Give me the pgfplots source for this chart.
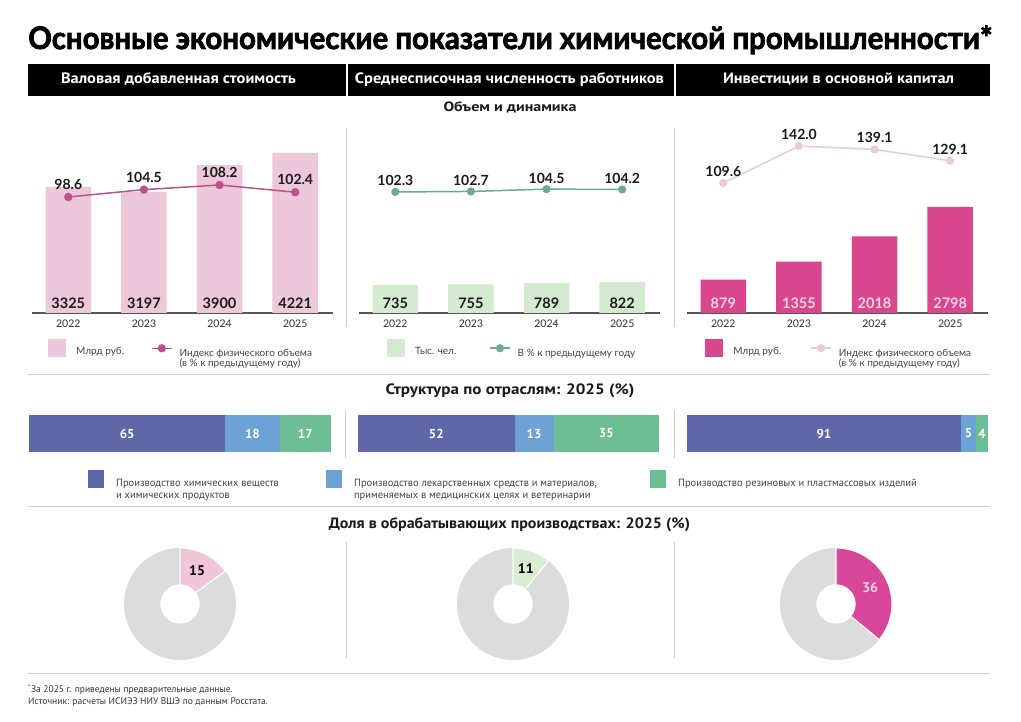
\documentclass[border=0pt]{standalone}
\usepackage{fontspec}
\usepackage{graphicx}
\usepackage{pgfplots}
\pgfplotsset{compat=1.18}
\usepackage{pgfplotstable}
\setmainfont{Lato}
\newfontfamily\hfont{PT Sans}
\newfontfamily\titlefont{Lato}[BoldFeatures={FakeBold=2.5}]

\definecolor{pinkbar}{HTML}{EDC7DA}
\definecolor{lineA}{HTML}{B9538D}
\definecolor{greenbar}{HTML}{D5EBD1}
\definecolor{lineB}{HTML}{6DAA90}
\definecolor{magbar}{HTML}{D9488F}
\definecolor{lineC}{HTML}{E9CAD8}
\definecolor{labelC}{HTML}{F8D3E3}
\definecolor{stA}{HTML}{5F67A9}
\definecolor{stB}{HTML}{6CA2D6}
\definecolor{stC}{HTML}{6DBE94}
\definecolor{dgrey}{HTML}{DCDCDC}
\definecolor{dA}{HTML}{F1C6DA}
\definecolor{dB}{HTML}{D8EDD2}
\definecolor{dC}{HTML}{D9479A}
\definecolor{sepgrey}{HTML}{CFCFCF}
\definecolor{axisgrey}{HTML}{555555}
\definecolor{ticktext}{HTML}{333333}
\definecolor{legtext}{HTML}{444444}
\definecolor{valtext}{HTML}{1A1A1A}

\newcommand\fitbox[2]{\resizebox{#1}{\height}{#2}}

% year, volume, index
\pgfplotstableread{
x v i
0 3325 98.6
1 3197 104.5
2 3900 108.2
3 4221 102.4
}\gva
\pgfplotstableread{
x v i
0 735 102.3
1 755 102.7
2 789 104.5
3 822 104.2
}\staff
\pgfplotstableread{
x v i
0 879 109.6
1 1355 142.0
2 2018 139.1
3 2798 129.1
}\invest

\pgfplotsset{
  panel/.style={scale only axis, width=301pt, height=166.8pt,
    xmin=-0.48, xmax=3.5, clip=false},
  barpanel/.style={panel, ymin=0, ymax=4400,
    axis x line*=bottom, axis y line=none,
    x axis line style={draw=axisgrey, line width=1.1pt, -},
    xtick={0,1,2,3}, xticklabels={2022,2023,2024,2025},
    ytick=\empty, major tick length=0pt,
    xticklabel style={font=\fontsize{10.5}{12}\selectfont, text=ticktext, yshift=-3pt},
    legend image code/.code={\fill[##1] (0pt,-5.5pt) rectangle (18pt,12.5pt); \path (28pt,0pt);},
    legend style={draw=none, fill=none, inner sep=0pt, anchor=north west,
      nodes={inner sep=0pt, font=\fontsize{10}{10.5}\selectfont, text=legtext}}},
  linepanel/.style={panel, hide axis,
    legend image code/.code={\draw[##1, mark repeat=2, mark phase=2] plot coordinates {(0pt,5pt) (10pt,5pt) (20pt,5pt)}; \path (27pt,0pt);},
    legend style={draw=none, fill=none, inner sep=0pt, anchor=north west,
      nodes={inner sep=0pt, font=\fontsize{10}{10.5}\selectfont, text=legtext}}},
  barvals/.style={ybar, bar width=45.5pt, bar shift=0pt, draw=none,
    point meta=explicit symbolic, nodes near coords,
    visualization depends on=rawy \as \rawy,
    every node near coord/.style={anchor=base, shift={(axis direction cs:0,-\rawy)},
      yshift=4pt, font=\bfseries\fontsize{14.5}{16}\selectfont, text=#1}},
  linevals/.style={line width=1.5pt, mark=*, mark size=3.4pt,
    point meta=explicit symbolic, nodes near coords,
    every node near coord/.style={anchor=base, yshift=#1,
      font=\bfseries\fontsize{14}{16}\selectfont, text=valtext}},
  stackax/.style={scale only axis, height=37pt, xmin=0, xmax=100,
    ymin=-0.5, ymax=0.5, hide axis, xbar stacked, bar width=37pt, clip=false,
    point meta=explicit symbolic, nodes near coords,
    every node near coord/.style={anchor=center,
      font=\hfont\bfseries\fontsize{13}{14}\selectfont, text=white}},
  donut/.style={scale only axis, width=112pt, height=112pt, anchor=center,
    xmin=-1, xmax=1, ymin=-1, ymax=1, hide axis, clip=false},
}

% donut shares, start angles of the coloured sectors and label angles
\def\shareA{15}\def\shareB{11}\def\shareC{36}
\pgfmathsetmacro\startA{90-3.6*\shareA}\pgfmathsetmacro\midA{90-1.8*\shareA}
\pgfmathsetmacro\startB{90-3.6*\shareB}\pgfmathsetmacro\midB{90-1.8*\shareB}
\pgfmathsetmacro\startC{90-3.6*\shareC}\pgfmathsetmacro\midC{90-1.8*\shareC}

\begin{document}
\begin{tikzpicture}[x=1pt,y=1pt]
\path[fill=white] (0,0) rectangle (1021,722);

% title and column headers
\node[anchor=base west, inner sep=0pt] at (28,673)
  {\fitbox{964pt}{\titlefont\bfseries\fontsize{31}{36}\selectfont Основные экономические показатели химической промышленности*}};
\fill[black] (28,626) rectangle (990,658);
\draw[white, line width=1.5pt] (347,626) -- (347,658);
\draw[white, line width=1.5pt] (675,626) -- (675,658);
\node[anchor=base, inner sep=0pt, text=white] at (178.5,638)
  {\fitbox{235pt}{\hfont\bfseries\fontsize{15}{18}\selectfont Валовая добавленная стоимость}};
\node[anchor=base, inner sep=0pt, text=white] at (509.5,638)
  {\fitbox{309pt}{\hfont\bfseries\fontsize{15}{18}\selectfont Среднесписочная численность работников}};
\node[anchor=base, inner sep=0pt, text=white] at (838.5,638)
  {\fitbox{231pt}{\hfont\bfseries\fontsize{15}{18}\selectfont Инвестиции в основной капитал}};

% section headings
\node[anchor=base, inner sep=0pt, text=valtext] at (510,610)
  {\fitbox{133pt}{\hfont\bfseries\fontsize{13.5}{16}\selectfont Объем и динамика}};
\node[anchor=base, inner sep=0pt, text=valtext] at (510,327)
  {\fitbox{249pt}{\hfont\bfseries\fontsize{15}{18}\selectfont Структура по отраслям: 2025 (\%)}};
\node[anchor=base, inner sep=0pt, text=valtext] at (509.5,193)
  {\fitbox{361pt}{\hfont\bfseries\fontsize{15}{18}\selectfont Доля в обрабатывающих производствах: 2025 (\%)}};

% separators
\begin{scope}[draw=sepgrey, line width=1pt]
\draw (28,347) -- (990,347);
\draw (28,215) -- (990,215);
\draw (28,48) -- (990,48);
\draw (346,395) -- (346,594);
\draw (674,395) -- (674,594);
\draw (345,264) -- (345,312);
\draw (674,264) -- (674,312);
\draw (346,64) -- (346,180);
\draw (674,64) -- (674,180);
\end{scope}

% ---- value added
\begin{axis}[barpanel, at={(32pt,409pt)}, anchor=south west,
  legend style={at={(0.053,-0.156)}}]
\addlegendimage{fill=pinkbar, draw=none}
\addlegendentry{Млрд руб.}
\addplot[barvals=valtext, fill=pinkbar] table[x=x, y=v, meta=v]{\gva};
\end{axis}
\begin{axis}[linepanel, at={(32pt,409pt)}, anchor=south west, ymin=5.8, ymax=139.24,
  legend style={at={(0.395,-0.19)}}]
\addlegendimage{color=lineA, line width=1.5pt, mark=*, mark size=3.4pt}
\addlegendentry{\parbox[t]{150pt}{\fontsize{10}{10.5}\selectfont Индекс физического объема\\(в \% к предыдущему году)}}
\addplot[linevals=7.5pt, color=lineA] table[x=x, y=i, meta=i]{\gva};
\end{axis}

% ---- average headcount
\begin{axis}[barpanel, at={(359pt,409pt)}, anchor=south west,
  legend style={at={(0.093,-0.156)}}]
\addlegendimage{fill=greenbar, draw=none}
\addlegendentry{Тыс. чел.}
\addplot[barvals=valtext, fill=greenbar] table[x=x, y=v, meta=v]{\staff};
\end{axis}
\begin{axis}[linepanel, at={(359pt,409pt)}, anchor=south west, ymin=9.22, ymax=137.5,
  legend style={at={(0.432,-0.19)}}]
\addlegendimage{color=lineB, line width=1.5pt, mark=*, mark size=3.3pt}
\addlegendentry{В \% к предыдущему году}
\addplot[linevals=6pt, color=lineB, mark size=3.3pt] table[x=x, y=i, meta=i]{\staff};
\end{axis}

% ---- fixed capital investment
\begin{axis}[barpanel, at={(687pt,409pt)}, anchor=south west,
  legend style={at={(0.060,-0.156)}}]
\addlegendimage{fill=magbar, draw=none}
\addlegendentry{Млрд руб.}
\addplot[barvals=labelC, fill=magbar] table[x=x, y=v, meta=v]{\invest};
\end{axis}
\begin{axis}[linepanel, at={(687pt,409pt)}, anchor=south west, ymin=-4.4, ymax=141.9,
  legend style={at={(0.409,-0.19)}}]
\addlegendimage{color=lineC, line width=1.5pt, mark=*, mark size=3.3pt}
\addlegendentry{\parbox[t]{150pt}{\fontsize{10}{10.5}\selectfont Индекс физического объема\\(в \% к предыдущему году)}}
\addplot[linevals=6.5pt, color=lineC, mark size=3.3pt] table[x=x, y=i, meta=i]{\invest};
\end{axis}

% ---- structure by industry, 2025
\begin{axis}[stackax, width=302pt, at={(29pt,270pt)}, anchor=south west,
  legend columns=3,
  legend image code/.code={\fill[#1] (0pt,-4.5pt) rectangle (16pt,13.5pt); \path (28pt,0pt);},
  legend style={at={(0.195,-0.486)}, anchor=north west, draw=none, fill=none,
    inner sep=0pt, column sep=0pt,
    nodes={inner sep=0pt, font=\hfont\fontsize{10.5}{12}\selectfont, text=legtext}}]
\addlegendimage{fill=stA, draw=none}
\addlegendentry{\parbox[t]{210pt}{\fontsize{10.5}{12}\selectfont Производство химических веществ\\и химических продуктов}}
\addlegendimage{fill=stB, draw=none}
\addlegendentry{\parbox[t]{296pt}{\fontsize{10.5}{12}\selectfont Производство лекарственных средств и материалов,\\применяемых в медицинских целях и ветеринарии}}
\addlegendimage{fill=stC, draw=none}
\addlegendentry{\parbox[t]{260pt}{\fontsize{10.5}{12}\selectfont Производство резиновых и пластмассовых изделий}}
\addplot[fill=stA, draw=none] coordinates {(65,0) [65]};
\addplot[fill=stB, draw=none] coordinates {(18,0) [18]};
\addplot[fill=stC, draw=none] coordinates {(17,0) [17]};
\end{axis}
\begin{axis}[stackax, width=301pt, at={(358pt,270pt)}, anchor=south west]
\addplot[fill=stA, draw=none] coordinates {(52,0) [52]};
\addplot[fill=stB, draw=none] coordinates {(13,0) [13]};
\addplot[fill=stC, draw=none] coordinates {(35,0) [35]};
\end{axis}
\begin{axis}[stackax, width=301pt, at={(687pt,270pt)}, anchor=south west]
\addplot[fill=stA, draw=none] coordinates {(91,0) [91]};
\addplot[fill=stB, draw=none] coordinates {(5,0) [5]};
\addplot[fill=stC, draw=none] coordinates {(4,0) [4]};
\end{axis}

% ---- share in manufacturing, 2025
\begin{axis}[donut, at={(180pt,118pt)}]
\addplot[fill=dgrey, draw=none, domain=0:360, samples=121] ({cos(x)},{sin(x)}) -- cycle;
\addplot[fill=dA, draw=white, line width=1.2pt, domain=\startA:90, samples=41] ({cos(x)},{sin(x)}) -- (axis cs:0,0) -- cycle;
\addplot[fill=white, draw=none, domain=0:360, samples=81] ({0.35*cos(x)},{0.35*sin(x)}) -- cycle;
\node[font=\hfont\bfseries\fontsize{14}{16}\selectfont, text=black] at (axis cs:{0.675*cos(\midA)},{0.675*sin(\midA)}) {15};
\end{axis}
\begin{axis}[donut, at={(513pt,118pt)}]
\addplot[fill=dgrey, draw=none, domain=0:360, samples=121] ({cos(x)},{sin(x)}) -- cycle;
\addplot[fill=dB, draw=white, line width=1.2pt, domain=\startB:90, samples=41] ({cos(x)},{sin(x)}) -- (axis cs:0,0) -- cycle;
\addplot[fill=white, draw=none, domain=0:360, samples=81] ({0.35*cos(x)},{0.35*sin(x)}) -- cycle;
\node[font=\hfont\bfseries\fontsize{14}{16}\selectfont, text=black] at (axis cs:{0.675*cos(\midB)},{0.675*sin(\midB)}) {11};
\end{axis}
\begin{axis}[donut, at={(836pt,118pt)}]
\addplot[fill=dgrey, draw=none, domain=0:360, samples=121] ({cos(x)},{sin(x)}) -- cycle;
\addplot[fill=dC, draw=white, line width=1.2pt, domain=\startC:90, samples=61] ({cos(x)},{sin(x)}) -- (axis cs:0,0) -- cycle;
\addplot[fill=white, draw=none, domain=0:360, samples=81] ({0.35*cos(x)},{0.35*sin(x)}) -- cycle;
\node[font=\hfont\bfseries\fontsize{14}{16}\selectfont, text=labelC] at (axis cs:{0.675*cos(\midC)},{0.675*sin(\midC)}) {36};
\end{axis}

% notes
\node[anchor=base west, inner sep=0pt, text=ticktext, font=\hfont\fontsize{9.5}{11}\selectfont] at (28,29)
  {\textsuperscript{*}За 2025 г. приведены предварительные данные.};
\node[anchor=base west, inner sep=0pt, text=ticktext, font=\hfont\fontsize{9.5}{11}\selectfont] at (28,17)
  {Источник: расчеты ИСИЭЗ НИУ ВШЭ по данным Росстата.};
\end{tikzpicture}
\end{document}
